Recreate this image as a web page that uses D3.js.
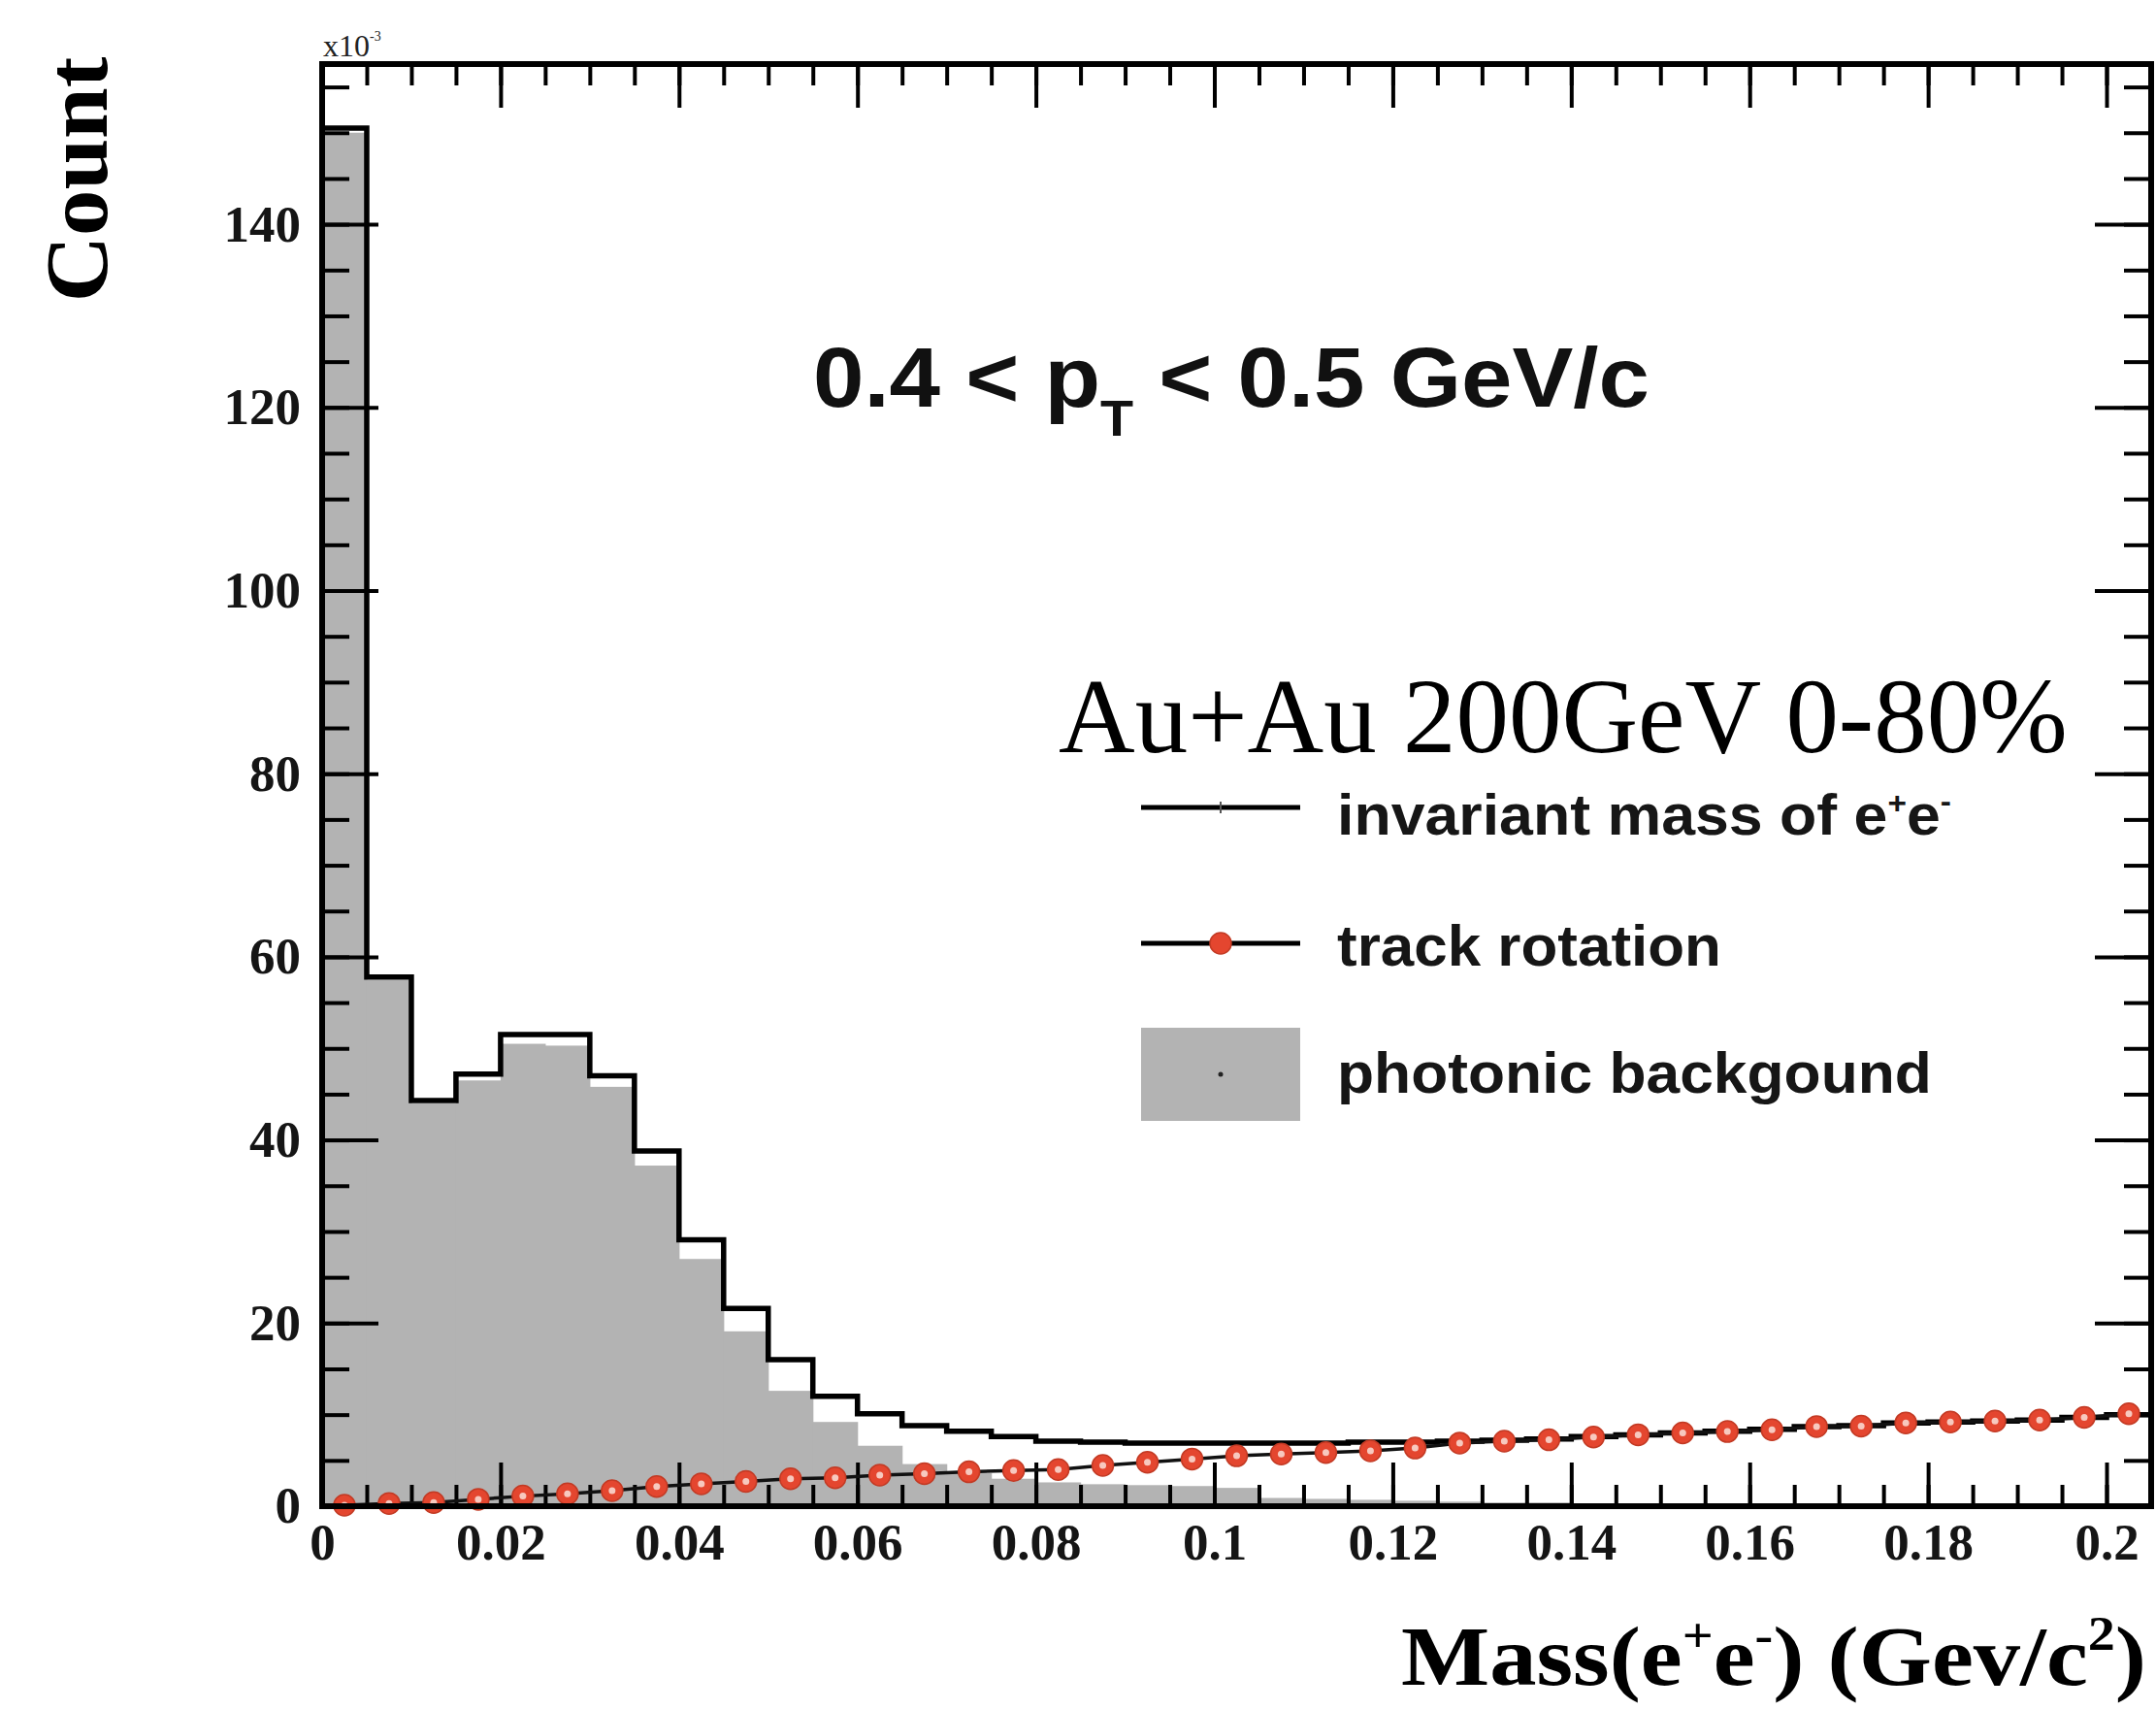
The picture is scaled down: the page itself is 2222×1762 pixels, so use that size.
<!DOCTYPE html>
<html>
<head>
<meta charset="utf-8">
<script src="https://cdn.jsdelivr.net/npm/d3@7"></script>
<style>
  body { margin: 0; background: #fff; }
  .serif { font-family: "Liberation Serif", "Times New Roman", serif; }
  .sans { font-family: "Liberation Sans", Arial, Helvetica, sans-serif; }
</style>
</head>
<body>
<svg id="chart" width="2222" height="1762"></svg>
<script>
// histogram bins: 41 bins of 0.005 GeV/c^2, from 0 to 0.205
const binWidth = 0.005;
const binStarts = d3.range(41).map((i) => +(i * binWidth).toFixed(3));

// invariant mass of e+e- (black step line), counts x10^-3
const invMass = [
  150.5, 57.8, 44.3, 47.2, 51.5, 51.5, 47.0, 38.8, 29.1, 21.6,
  16.0, 12.0, 10.1, 8.8, 8.2, 7.6, 7.1, 7.0, 6.9, 6.9,
  6.9, 6.9, 6.9, 7.0, 7.0, 7.1, 7.2, 7.35, 7.6, 7.8,
  8.0, 8.2, 8.4, 8.7, 8.8, 9.1, 9.2, 9.3, 9.4, 9.7,
  10.0,
];

// photonic background (grey fill)
const photonic = [
  150.0, 57.5, 44.0, 46.5, 50.5, 50.3, 45.8, 37.2, 27.0, 19.1,
  12.6, 9.2, 6.6, 4.6, 3.6, 3.0, 2.6, 2.4, 2.3, 2.2,
  2.0, 0.9, 0.8, 0.7, 0.6, 0.5, 0.4, 0.4, 0.3, 0.3,
  0.2, 0.2, 0.2, 0.1, 0.1, 0.1, 0.1, 0, 0, 0,
  0,
];

// track rotation (red markers)
const rotation = [
  0.1, 0.3, 0.4, 0.75, 1.1, 1.35, 1.7, 2.15, 2.45, 2.7,
  3.0, 3.1, 3.4, 3.55, 3.75, 3.9, 4.0, 4.45, 4.8, 5.15,
  5.5, 5.7, 5.85, 6.05, 6.35, 6.9, 7.1, 7.25, 7.55, 7.8,
  8.0, 8.15, 8.35, 8.7, 8.75, 9.1, 9.2, 9.3, 9.4, 9.7,
  10.1,
];

const xMajorTicks = [0, 0.02, 0.04, 0.06, 0.08, 0.1, 0.12, 0.14, 0.16, 0.18, 0.2];
const xTickLabels = ["0", "0.02", "0.04", "0.06", "0.08", "0.1", "0.12", "0.14", "0.16", "0.18", "0.2"];
const xMinorTicks = d3.range(41).map((i) => +(i * 0.005).toFixed(3));
const yMajorTicks = [0, 20, 40, 60, 80, 100, 120, 140];
const yMinorTicks = d3.range(0, 156, 5);

const legendItems = ["invariant mass of e", "track rotation", "photonic backgound"];

const margin = { top: 66, left: 332 };
const width = 1885;
const height = 1486;

const svg = d3.select("#chart");
const g = svg
  .append("g")
  .attr("transform", `translate(${margin.left},${margin.top})`);

const x = d3.scaleLinear().domain([0, 0.205]).range([0, width]);
const y = d3.scaleLinear().domain([0, 157.5]).range([height, 0]);

// grey photonic background bars
g.append("g")
  .selectAll("rect")
  .data(binStarts)
  .join("rect")
  .attr("x", (d) => x(d))
  .attr("width", (d) => x(d + binWidth) - x(d) + 0.6)
  .attr("y", (d, i) => y(photonic[i]))
  .attr("height", (d, i) => y(0) - y(photonic[i]))
  .attr("fill", "#b3b3b3");

// axes ticks (ROOT style: ticks on all four sides, pointing in)
function drawAxis(axis, transform) {
  const sel = g.append("g").attr("transform", transform).call(axis);
  sel.select(".domain").remove();
  sel.selectAll(".tick line").attr("stroke", "#000").attr("stroke-width", 4);
  return sel;
}

drawAxis(d3.axisBottom(x).tickValues(xMinorTicks).tickSize(-22).tickFormat(""), `translate(0,${height})`);
const xAxis = drawAxis(
  d3.axisBottom(x)
    .tickValues(xMajorTicks)
    .tickSize(-45)
    .tickPadding(17)
    .tickFormat((d, i) => xTickLabels[i]),
  `translate(0,${height})`,
);
drawAxis(d3.axisTop(x).tickValues(xMinorTicks).tickSize(-22).tickFormat(""), "translate(0,0)");
drawAxis(d3.axisTop(x).tickValues(xMajorTicks).tickSize(-45).tickFormat(""), "translate(0,0)");

drawAxis(d3.axisLeft(y).tickValues(yMinorTicks).tickSize(-28).tickFormat(""), "translate(0,0)");
const yAxis = drawAxis(
  d3.axisLeft(y).tickValues(yMajorTicks).tickSize(-58).tickPadding(22).tickFormat(d3.format("d")),
  "translate(0,0)",
);
drawAxis(d3.axisRight(y).tickValues(yMinorTicks).tickSize(-28).tickFormat(""), `translate(${width},0)`);
drawAxis(d3.axisRight(y).tickValues(yMajorTicks).tickSize(-58).tickFormat(""), `translate(${width},0)`);

[xAxis, yAxis].forEach((a) =>
  a.selectAll("text")
    .attr("class", "serif")
    .attr("font-size", 53)
    .attr("font-weight", "bold")
    .attr("fill", "#151515"),
);

// invariant mass step line
const stepPts = [[0, 0]];
binStarts.forEach((d, i) => {
  stepPts.push([d, invMass[i]]);
  stepPts.push([d + binWidth, invMass[i]]);
});
stepPts.push([0.205, 0]);

g.append("path")
  .datum(stepPts)
  .attr("fill", "none")
  .attr("stroke", "#000")
  .attr("stroke-width", 5.5)
  .attr("stroke-linejoin", "miter")
  .attr("d", d3.line().x((d) => x(d[0])).y((d) => y(d[1])));

// track rotation: line + markers
const rotPts = binStarts.map((d, i) => ({ m: d + binWidth / 2, v: rotation[i] }));
g.append("path")
  .datum(rotPts)
  .attr("fill", "none")
  .attr("stroke", "#111")
  .attr("stroke-width", 3.5)
  .attr("d", d3.line().x((d) => x(d.m)).y((d) => y(d.v)));

const marks = g.append("g").selectAll("g").data(rotPts).join("g")
  .attr("transform", (d) => `translate(${x(d.m)},${y(d.v)})`);
marks.append("circle").attr("r", 11).attr("fill", "#e4462f").attr("stroke", "#c23a24").attr("stroke-width", 1.5);
marks.append("circle").attr("r", 3.5).attr("fill", "#f7c9bf");

// frame
g.append("rect")
  .attr("width", width)
  .attr("height", height)
  .attr("fill", "none")
  .attr("stroke", "#000")
  .attr("stroke-width", 6);

// helper: stretch a text horizontally to a target width
function fitWidth(text, target) {
  const w = text.node().getBBox().width;
  text.attr("transform", `scale(${target / w},1)`);
}

// x10^-3 multiplier
const mult = svg.append("text").attr("class", "serif").attr("x", 333).attr("y", 58)
  .attr("font-size", 32).attr("fill", "#222").text("x10");
mult.append("tspan").attr("dy", -16).attr("font-size", 14).text("-3");

// y axis title
const countG = svg.append("g").attr("transform", "translate(110,185) rotate(-90)");
const countT = countG.append("text").attr("class", "serif").attr("text-anchor", "middle")
  .attr("font-size", 92).attr("font-weight", "bold").attr("fill", "#000").text("Count");
fitWidth(countT, 253);

// x axis title
const massG = svg.append("g").attr("transform", "translate(2212,1736)");
const massT = massG.append("text").attr("class", "serif").attr("text-anchor", "end")
  .attr("font-size", 86).attr("font-weight", "bold").attr("fill", "#000");
massT.append("tspan").text("Mass(e");
massT.append("tspan").attr("dy", -34).attr("font-size", 50).text("+");
massT.append("tspan").attr("dy", 34).text("e");
massT.append("tspan").attr("dy", -34).attr("font-size", 50).text("-");
massT.append("tspan").attr("dy", 34).text(") (Gev/c");
massT.append("tspan").attr("dy", -36).attr("font-size", 50).text("2");
massT.append("tspan").attr("dy", 36).text(")");
fitWidth(massT, 768);

// pT range title
const ptG = svg.append("g").attr("transform", "translate(838,419)");
const ptT = ptG.append("text").attr("class", "sans").attr("font-size", 88)
  .attr("font-weight", "bold").attr("fill", "#111");
ptT.append("tspan").text("0.4 < p");
ptT.append("tspan").attr("dy", 30).attr("font-size", 52).text("T");
ptT.append("tspan").attr("dy", -30).text(" < 0.5 GeV/c");
fitWidth(ptT, 862);

// collision system
const sysG = svg.append("g").attr("transform", "translate(1091,775)");
const sysT = sysG.append("text").attr("class", "serif").attr("font-size", 110)
  .attr("fill", "#000").text("Au+Au 200GeV 0-80%");
fitWidth(sysT, 1040);

// legend
const leg = svg.append("g");
leg.append("line").attr("x1", 1176).attr("x2", 1340).attr("y1", 832).attr("y2", 832)
  .attr("stroke", "#000").attr("stroke-width", 5);
leg.append("line").attr("x1", 1258).attr("x2", 1258).attr("y1", 826).attr("y2", 838)
  .attr("stroke", "#555").attr("stroke-width", 2);
leg.append("line").attr("x1", 1176).attr("x2", 1340).attr("y1", 972).attr("y2", 972)
  .attr("stroke", "#000").attr("stroke-width", 5);
leg.append("circle").attr("cx", 1258).attr("cy", 972).attr("r", 11)
  .attr("fill", "#e4462f").attr("stroke", "#c23a24").attr("stroke-width", 1.5);
leg.append("rect").attr("x", 1176).attr("y", 1059).attr("width", 164).attr("height", 96)
  .attr("fill", "#b3b3b3");
leg.append("circle").attr("cx", 1258).attr("cy", 1107).attr("r", 2.5).attr("fill", "#222");

const legTargets = [633, 396, 613];
const legBase = [860, 995, 1126];
legendItems.forEach((label, i) => {
  const lg = leg.append("g").attr("transform", `translate(1378,${legBase[i]})`);
  const t = lg.append("text").attr("class", "sans").attr("font-size", 60)
    .attr("font-weight", "bold").attr("fill", "#161616");
  t.append("tspan").text(label);
  if (i === 0) {
    t.append("tspan").attr("dy", -22).attr("font-size", 32).text("+");
    t.append("tspan").attr("dy", 22).text("e");
    t.append("tspan").attr("dy", -24).attr("font-size", 32).text("-");
  }
  fitWidth(t, legTargets[i]);
});
</script>
</body>
</html>
